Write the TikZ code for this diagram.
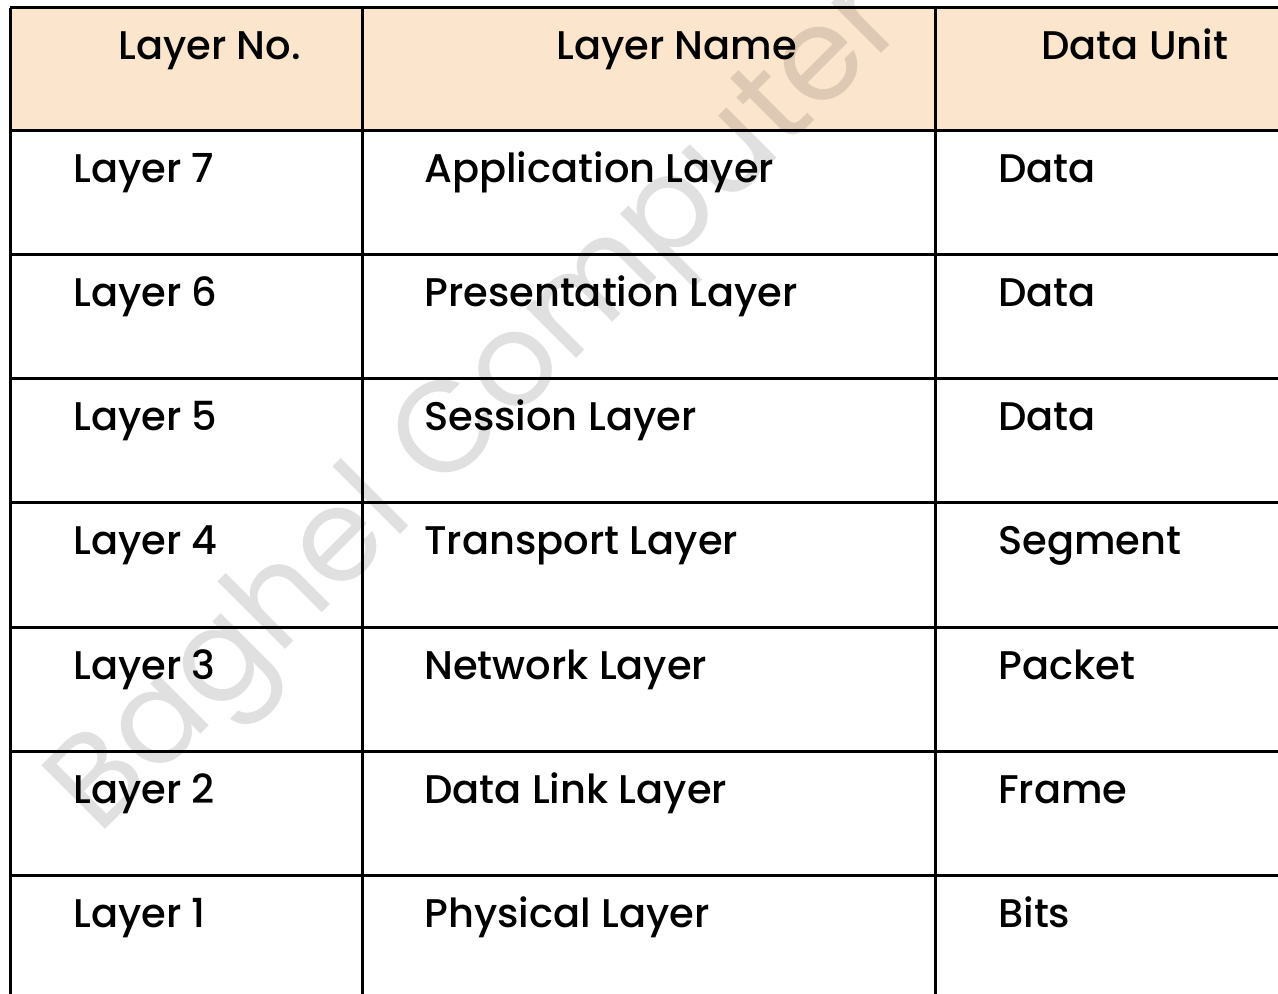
\documentclass[tikz,border=0pt]{standalone}
\usepackage{fontspec}
\setmainfont{Poppins Medium}
\newfontfamily\markfont{Poppins}
\definecolor{headfill}{HTML}{FCE5CD}

\begin{document}
\begin{tikzpicture}[x=0.75pt,y=-0.75pt,
    cell/.style={anchor=base west,inner sep=0pt,font=\fontsize{30}{36}\selectfont},
    rule/.style={line width=2.25pt}]
\useasboundingbox (0,0) rectangle (1278,994);
% header band
\fill[headfill] (10,8) rectangle (1278,131);
% watermark
\node[rotate=45,opacity=0.12,inner sep=0pt,font=\markfont\fontsize{97}{97}\selectfont] (mark) at (482,410) {Baghel Computer};
% grid
\foreach \y in {8,131,255,379,503,627,751,875}
  \draw[rule] (10,\y) -- (1278,\y);
\foreach \x in {10,362,935}
  \draw[rule] (\x,8) -- (\x,994);
% header
\node[cell] (hno) at (118,60) {Layer No.};
\node[cell] (hname) at (556,60) {Layer Name};
\node[cell] (hunit) at (1041,60) {Data Unit};
% rows
\foreach \n/\name/\unit [count=\i] in {7/Application Layer/Data,6/Presentation Layer/Data,
    5/Session Layer/Data,4/Transport Layer/Segment,3/Network Layer/Packet,
    2/Data Link Layer/Frame,1/Physical Layer/Bits}
{
  \pgfmathsetmacro\yb{183+124*(\i-1)}
  \node[cell] (no\n) at (73,\yb) {Layer \n};
  \node[cell] (name\n) at (424,\yb) {\name};
  \node[cell] (unit\n) at (998,\yb) {\unit};
}
\end{tikzpicture}
\end{document}
